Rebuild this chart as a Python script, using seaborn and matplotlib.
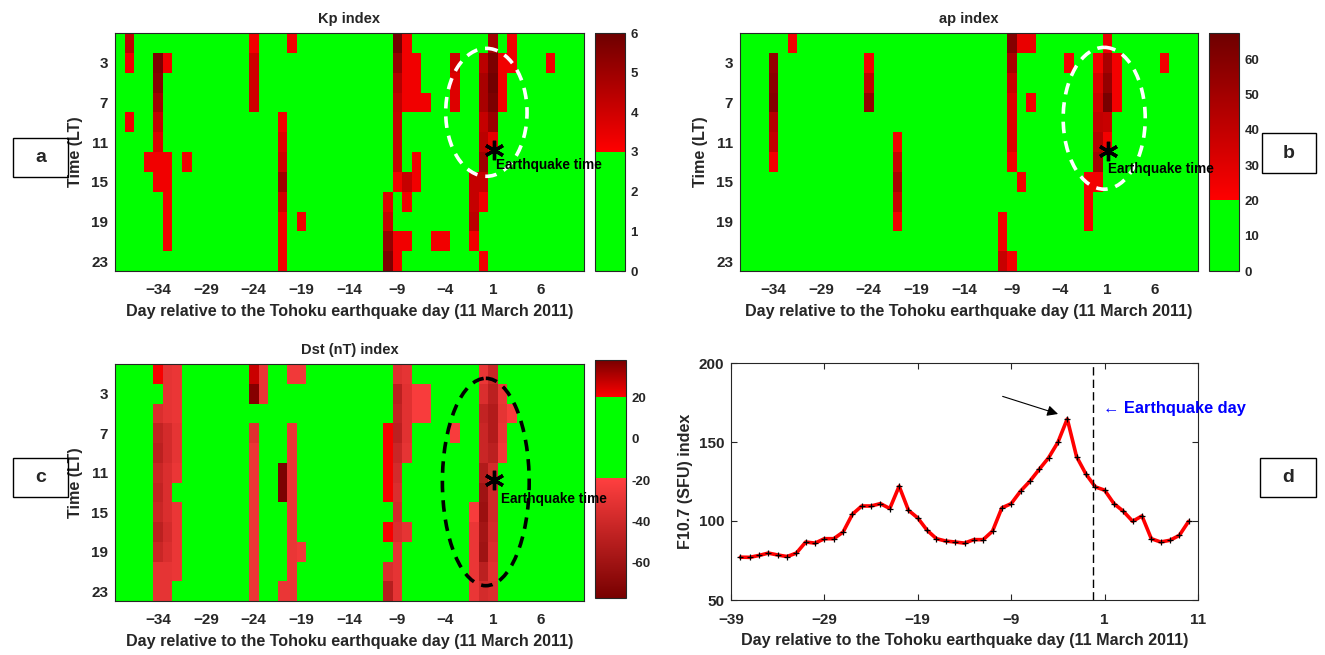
import numpy as np
import pandas as pd
import matplotlib
matplotlib.use("Agg")
import matplotlib.pyplot as plt
import seaborn as sns
from matplotlib.colors import ListedColormap
from matplotlib.patches import Ellipse, Rectangle

# ---------------------------------------------------------------- data
HOURS = [1, 3, 5, 7, 9, 11, 13, 15, 17, 19, 21, 23]
KP_DAYS = list(range(-38, 11))
AP_DAYS = list(range(-37, 11))
DST_DAYS = list(range(-38, 11))
XTICK_DAYS = [-34, -29, -24, -19, -14, -9, -4, 1, 6]
YTICK_HOURS = [3, 7, 11, 15, 19, 23]

KP_QUIET = 1.5
kp_day = [-37, -37, -37,
          -35,
          -34, -34, -34, -34, -34, -34, -34,
          -33, -33, -33, -33, -33, -33,
          -31,
          -24, -24, -24, -24,
          -21, -21, -21, -21, -21, -21, -21, -21,
          -20, -19,
          -10, -10, -10, -10,
          -9, -9, -9, -9, -9, -9, -9, -9, -9, -9,
          -8, -8, -8, -8, -8, -8, -8,
          -7, -7, -7, -7, -7,
          -6, -5, -4,
          -3, -3, -3,
          -1, -1, -1, -1,
          0, 0, 0, 0, 0, 0, 0, 0, 0,
          1, 1, 1, 1, 1, 1,
          2, 2, 2,
          3, 3,
          7]
kp_hour = [1, 3, 9,
           13,
           3, 5, 7, 9, 11, 13, 15,
           3, 13, 15, 17, 19, 21,
           13,
           1, 3, 5, 7,
           9, 11, 13, 15, 17, 19, 21, 23,
           1, 19,
           17, 19, 21, 23,
           1, 3, 5, 7, 9, 11, 13, 15, 21, 23,
           1, 3, 5, 7, 15, 17, 21,
           3, 5, 7, 13, 15,
           7, 21, 21,
           3, 5, 7,
           15, 17, 19, 21,
           3, 5, 7, 9, 11, 13, 15, 17, 23,
           1, 3, 5, 7, 9, 11,
           3, 5, 7,
           1, 3,
           3]
kp_value = [4.3, 3.3, 3.3,
            3.3,
            5.7, 5.5, 5.0, 4.3, 3.8, 3.3, 3.3,
            3.3, 3.3, 3.3, 3.3, 3.3, 3.3,
            3.3,
            3.3, 4.0, 4.0, 4.0,
            3.3, 3.7, 4.0, 5.0, 4.0, 3.3, 3.3, 3.3,
            3.3, 3.3,
            3.7, 4.2, 5.2, 5.7,
            5.9, 5.2, 4.6, 4.3, 4.2, 4.2, 4.2, 3.3, 3.3, 3.3,
            3.3, 3.3, 3.3, 3.3, 4.2, 3.3, 3.3,
            3.3, 3.3, 3.3, 3.3, 3.3,
            3.3, 3.3, 3.3,
            4.0, 3.7, 3.7,
            4.2, 4.2, 4.4, 3.3,
            4.4, 4.8, 4.8, 4.2, 4.4, 5.0, 4.2, 3.3, 3.3,
            4.9, 5.7, 5.9, 5.7, 5.1, 3.5,
            3.3, 3.3, 3.3,
            3.3, 3.3,
            3.3]

AP_QUIET = 8
ap_day = [-34, -34, -34, -34, -34, -34,
          -32,
          -24, -24, -24,
          -21, -21, -21, -21, -21,
          -10, -10, -10,
          -9, -9, -9, -9, -9, -9, -9, -9,
          -8, -8,
          -7, -7,
          -3,
          -1, -1, -1,
          0, 0, 0, 0, 0, 0, 0,
          1, 1, 1, 1, 1, 1,
          2, 2, 2,
          7]
ap_hour = [3, 5, 7, 9, 11, 13,
           1,
           3, 5, 7,
           11, 13, 15, 17, 19,
           19, 21, 23,
           1, 3, 5, 7, 9, 11, 13, 23,
           1, 15,
           1, 7,
           3,
           15, 17, 19,
           3, 5, 7, 9, 11, 13, 15,
           1, 3, 5, 7, 9, 11,
           3, 5, 7,
           3]
ap_value = [55, 58, 60, 44, 40, 24,
            24,
            24, 40, 55,
            24, 38, 48, 38, 24,
            24, 24, 38,
            60, 48, 38, 32, 32, 32, 24, 24,
            27, 24,
            27, 24,
            24,
            24, 24, 24,
            24, 32, 36, 40, 44, 50, 24,
            28, 48, 55, 64, 38, 24,
            24, 24, 24,
            24]

DST_QUIET = 0
dst_day = [-34, -34, -34, -34, -34, -34, -34, -34, -34, -34, -34,
           -33, -33, -33, -33, -33, -33, -33, -33, -33, -33, -33, -33,
           -32, -32, -32, -32, -32, -32, -32, -32, -32, -32,
           -24, -24, -24, -24, -24, -24, -24, -24, -24, -24, -24,
           -23, -23,
           -21, -21, -21,
           -20, -20, -20, -20, -20, -20, -20, -20, -20, -20,
           -19, -19,
           -10, -10, -10, -10, -10, -10, -10,
           -9, -9, -9, -9, -9, -9, -9, -9, -9, -9, -9, -9,
           -8, -8, -8, -8, -8, -8,
           -7, -7, -6, -6, -3,
           -1, -1, -1, -1, -1,
           0, 0, 0, 0, 0, 0, 0, 0, 0, 0, 0, 0,
           1, 1, 1, 1, 1, 1, 1, 1, 1, 1, 1, 1,
           2, 2, 2, 2,
           3]
dst_hour = [1, 5, 7, 9, 11, 13, 15, 17, 19, 21, 23,
            1, 3, 5, 7, 9, 11, 13, 15, 17, 19, 21, 23,
            1, 3, 5, 7, 9, 11, 15, 17, 19, 21,
            1, 3, 7, 9, 11, 13, 15, 17, 19, 21, 23,
            1, 3,
            11, 13, 23,
            1, 7, 9, 11, 13, 15, 17, 19, 21, 23,
            1, 19,
            7, 9, 11, 13, 17, 21, 23,
            1, 3, 5, 7, 9, 11, 13, 15, 17, 19, 21, 23,
            1, 3, 5, 7, 9, 17,
            3, 5, 3, 5, 7,
            15, 17, 19, 21, 23,
            1, 3, 5, 7, 9, 11, 13, 15, 17, 19, 21, 23,
            1, 3, 5, 7, 9, 11, 13, 15, 17, 19, 21, 23,
            3, 5, 7, 9,
            5]
dst_value = [21, -35, -45, -48, -42, -45, -42, -48, -42, -30, -30,
             -30, -30, -30, -38, -38, -35, -35, -35, -38, -35, -30, -30,
             -28, -28, -28, -30, -30, -28, -28, -28, -28, -28,
             27, 36, -33, -28, -28, -28, -28, -28, -28, -28, -28,
             -28, -28,
             -75, -75, -28,
             -25, -28, -28, -28, -28, -28, -28, -28, -28, -28,
             -25, -25,
             21, 21, 21, 21, 21, -35, -50,
             -33, -48, -45, -48, -42, -38, -35, -38, -35, -30, -30, -30,
             -30, -32, -32, -32, -30, -30,
             -22, -22, -22, -22, -22,
             -22, -28, -28, -28, -28,
             -28, -35, -45, -42, -42, -52, -60, -62, -58, -60, -48, -38,
             -42, -48, -52, -52, -48, -38, -40, -40, -38, -35, -32, -35,
             -28, -30, -28, -25,
             -22]

F107_DAYS = list(range(-38, 11))
f107 = [77.1, 77.0, 78.2, 79.7, 78.5, 77.5, 79.7, 86.7, 86.0, 88.8,
        88.8, 93.0, 104.3, 109.5, 109.5, 111.0, 107.9, 122.0, 106.8, 101.9,
        94.1, 88.8, 87.3, 86.7, 86.0, 88.2, 88.2, 93.6, 108.3, 111.0,
        118.9, 125.2, 132.7, 140.0, 149.8, 164.6, 140.7, 129.7, 121.6, 119.5,
        111.0, 106.2, 99.8, 103.2, 88.8, 86.7, 87.8, 90.9, 99.8]

# ---------------------------------------------------------------- style
sns.set_theme(style="white")
plt.rcParams["font.family"] = ["Liberation Sans", "DejaVu Sans"]
plt.rcParams["font.weight"] = "bold"
plt.rcParams["axes.labelweight"] = "bold"
plt.rcParams["axes.titleweight"] = "bold"
EDGE = "#262626"
GREEN = (0.0, 1.0, 0.0)
TICK_FS = 11
LABEL_FS = 11.6
TITLE_FS = 10.5


def make_cmap(vmin, vmax, segments, n=600):
    vals = np.linspace(vmin, vmax, n)
    cols = []
    for v in vals:
        for a, b, ca, cb in segments:
            if a <= v <= b:
                t = 0 if b == a else (v - a) / (b - a)
                cols.append(tuple(ca[i] + (cb[i] - ca[i]) * t for i in range(3)))
                break
    return ListedColormap(cols)


def grid(days, cell_day, cell_hour, cell_val, quiet):
    full = pd.DataFrame(quiet, index=HOURS, columns=days, dtype=float)
    for d, h, v in zip(cell_day, cell_hour, cell_val):
        full.loc[h, d] = v
    return full


fig = plt.figure(figsize=(13.25, 6.55), dpi=100)
W, H = 1325, 655


def px_axes(l, t, r, b):
    return fig.add_axes([l / W, 1 - b / H, (r - l) / W, (b - t) / H])


ax_a = px_axes(115, 33, 584, 271)
cax_a = px_axes(595, 33, 625, 271)
ax_b = px_axes(740, 33, 1198, 271)
cax_b = px_axes(1209, 33, 1239, 271)
ax_c = px_axes(115, 364, 584, 601)
cax_c = px_axes(595, 360, 626, 598)
ax_d = px_axes(731, 363, 1198, 600)

XLABEL = "Day relative to the Tohoku earthquake day (11 March 2011)"


def style_box(ax):
    ax.tick_params(direction="in", length=4, width=0.8, color=EDGE,
                   top=True, right=True, bottom=True, left=True)
    ax.tick_params(axis="x", pad=9)
    ax.tick_params(axis="y", pad=5)
    for sp in ax.spines.values():
        sp.set_visible(True)
        sp.set_color(EDGE)
        sp.set_linewidth(0.8)


def heat(ax, cax, df, days, cmap, vmin, vmax, cticks, clabels, title):
    sns.heatmap(df, ax=ax, cmap=cmap, vmin=vmin, vmax=vmax, cbar_ax=cax,
                xticklabels=False, yticklabels=False)
    ax.set_xticks([d - days[0] + 0.5 for d in XTICK_DAYS])
    ax.set_xticklabels([str(d).replace("-", "\u2212") for d in XTICK_DAYS],
                       fontsize=TICK_FS, fontweight="bold", rotation=0)
    ax.set_yticks([h / 2 for h in YTICK_HOURS])
    ax.set_yticklabels([str(h) for h in YTICK_HOURS], fontsize=TICK_FS,
                       fontweight="bold", rotation=0)
    style_box(ax)
    ax.set_title(title, fontsize=TITLE_FS, fontweight="bold", pad=7)
    ax.set_xlabel(XLABEL, fontsize=LABEL_FS, fontweight="bold", labelpad=5)
    ax.set_ylabel("Time (LT)", fontsize=LABEL_FS, fontweight="bold",
                  labelpad=6)
    cb = ax.collections[0].colorbar
    cb.outline.set_linewidth(0.8)
    cb.outline.set_edgecolor(EDGE)
    cb.set_ticks(cticks)
    cb.set_ticklabels(clabels)
    cax.tick_params(direction="in", length=3, width=0.8, color=EDGE,
                    labelsize=9.5, pad=4)
    for lab in cax.get_yticklabels():
        lab.set_fontweight("bold")


# Kp
kp_cmap = make_cmap(0, 6, [(0, 3, GREEN, GREEN),
                           (3, 6, (1, 0, 0), (0.43, 0, 0))])
heat(ax_a, cax_a, grid(KP_DAYS, kp_day, kp_hour, kp_value, KP_QUIET),
     KP_DAYS, kp_cmap, 0, 6, [0, 1, 2, 3, 4, 5, 6],
     ["0", "1", "2", "3", "4", "5", "6"], "Kp index")

# ap
ap_cmap = make_cmap(0, 67.5, [(0, 20, GREEN, GREEN),
                              (20, 67.5, (1, 0, 0), (0.43, 0, 0))])
heat(ax_b, cax_b, grid(AP_DAYS, ap_day, ap_hour, ap_value, AP_QUIET),
     AP_DAYS, ap_cmap, 0, 67.5, [0, 10, 20, 30, 40, 50, 60],
     ["0", "10", "20", "30", "40", "50", "60"], "ap index")

# Dst
dst_cmap = make_cmap(-77, 38, [(-77, -19, (0.47, 0, 0), (1, 0.25, 0.25)),
                               (-19, 20, GREEN, GREEN),
                               (20, 38, (1, 0, 0), (0.47, 0, 0))])
heat(ax_c, cax_c, grid(DST_DAYS, dst_day, dst_hour, dst_value, DST_QUIET),
     DST_DAYS, dst_cmap, -77, 38, [-60, -40, -20, 0, 20],
     ["-60", "-40", "-20", "0", "20"], "Dst (nT) index")


def mark(ax, days, eday, ehour, ew, eh, ecolor, sday, shour, tday, thour):
    x0 = days[0] - 0.5
    ax.add_patch(Ellipse((eday - x0, ehour / 2), ew, eh / 2, fill=False,
                         edgecolor=ecolor, lw=2.6, linestyle=(0, (3.2, 2.2)),
                         zorder=5))
    ax.plot([sday - x0], [shour / 2], marker=(6, 2, 0), color="black",
            markersize=14, mew=2.4, zorder=6)
    # drawn at figure level so it sits above the neighbouring colour bar
    fig.text(tday - x0, thour / 2, "Earthquake time", fontsize=9.8,
             fontweight="bold", color="black", ha="left", va="center",
             transform=ax.transData, zorder=10)


mark(ax_a, KP_DAYS, 0.3, 8.0, 8.5, 12.9, "white", 1.1, 11.75, 1.3, 13.3)
mark(ax_b, AP_DAYS, 0.67, 8.6, 8.6, 14.3, "white", 1.12, 11.9, 1.1, 13.7)
mark(ax_c, DST_DAYS, 0.24, 11.95, 9.07, 21.0, "black", 1.1, 11.75, 1.8, 13.7)

# F10.7
df_f = pd.DataFrame({"day": F107_DAYS, "f107": f107})
sns.lineplot(data=df_f, x="day", y="f107", ax=ax_d, color="red", lw=2.6,
             marker="+", markeredgecolor="black", markersize=5, mew=0.9)
ax_d.axvline(-0.2, color="black", lw=1.0, linestyle=(0, (6, 3)))
ax_d.annotate("", xy=(-3.7, 167.2), xytext=(-10.2, 179.4),
              arrowprops=dict(arrowstyle="-|>", color="black", lw=0.8,
                              mutation_scale=16))
ax_d.text(0.8, 171.5, "\u2190 Earthquake day", color="blue", fontsize=11.8,
          fontweight="bold", ha="left", va="center")
ax_d.set_xlim(-39, 11)
ax_d.set_ylim(50, 200)
dticks = [-39, -29, -19, -9, 1, 11]
ax_d.set_xticks(dticks)
ax_d.set_xticklabels([str(d).replace("-", "\u2212") for d in dticks],
                     fontsize=TICK_FS, fontweight="bold")
ax_d.set_yticks([50, 100, 150, 200])
ax_d.set_yticklabels(["50", "100", "150", "200"], fontsize=TICK_FS,
                     fontweight="bold")
style_box(ax_d)
ax_d.set_xlabel(XLABEL, fontsize=LABEL_FS, fontweight="bold", labelpad=5)
ax_d.set_ylabel("F10.7 (SFU) index", fontsize=LABEL_FS, fontweight="bold",
                labelpad=4)

# panel letters
for lab, (l, t, r, b) in {"a": (13, 138, 68, 177), "b": (1262, 133, 1316, 173),
                          "c": (13, 458, 68, 497), "d": (1260, 458, 1316, 497)}.items():
    fig.add_artist(Rectangle((l / W, 1 - b / H), (r - l) / W, (b - t) / H,
                             transform=fig.transFigure, fill=False,
                             edgecolor="black", lw=1.0))
    fig.text((l + r) / 2 / W, 1 - (t + b) / 2 / H, lab, ha="center",
             va="center", fontsize=14, fontweight="bold")

fig.savefig("out.png", dpi=100)
